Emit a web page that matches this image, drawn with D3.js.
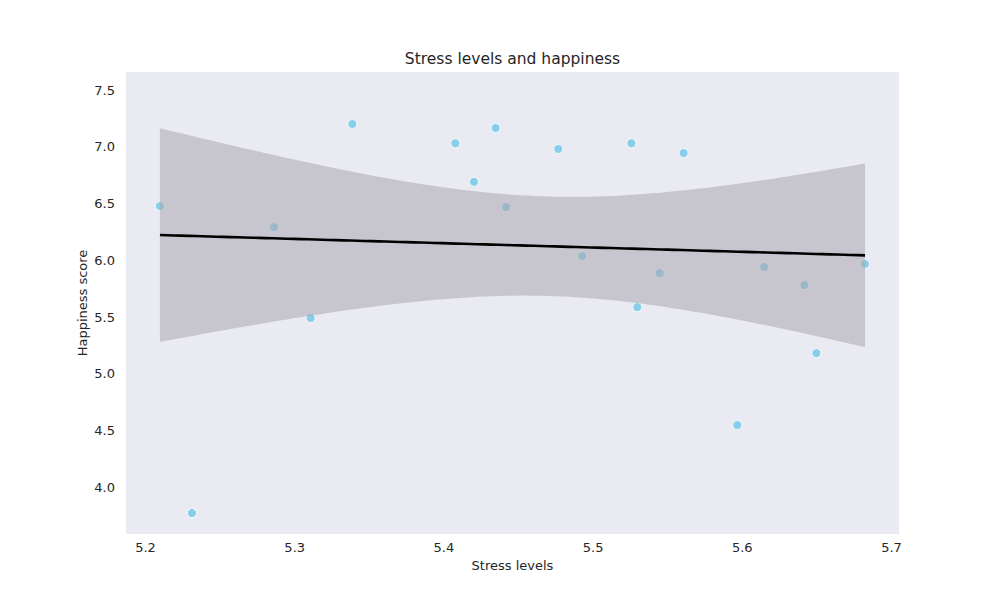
<!DOCTYPE html>
<html lang="en">
<meta charset="utf-8"/>
<head>
<script src="https://d3js.org/d3.v7.min.js"></script>
<style>
  body { margin: 0; background: white; }
  text { font-family: "DejaVu Sans", sans-serif; fill: #262626; }
</style>
</head>
<body>
<svg id="container" width="1000" height="600"></svg>
<script>
// data
let stress =    [5.210, 5.2315, 5.2865, 5.311, 5.339, 5.408, 5.4205, 5.435, 5.442, 5.477, 5.493, 5.526, 5.530, 5.545, 5.561, 5.597, 5.615, 5.642, 5.650, 5.6826]
let happiness = [6.477, 3.77,   6.29,   5.49,  7.20,  7.03,  6.69,   7.165, 6.468, 6.98,  6.036, 7.03,  5.586, 5.886, 6.944, 4.546, 5.94,  5.78,  5.18,  5.966]
let xTicks = [5.2, 5.3, 5.4, 5.5, 5.6, 5.7]
let yTicks = [4.0, 4.5, 5.0, 5.5, 6.0, 6.5, 7.0, 7.5]

let svg = d3.select("svg")
let pLeft = 126, pRight = 899, pTop = 72, pBottom = 534

let x = d3.scaleLinear().domain([5.2, 5.7]).range([145, 891])
let y = d3.scaleLinear().domain([4.0, 7.5]).range([487, 90])

svg.append("rect").attr("x", pLeft).attr("y", pTop)
   .attr("width", pRight-pLeft).attr("height", pBottom-pTop).attr("fill", "#eaeaf2")

// least squares fit + 95% confidence band
let n = stress.length
let mx = d3.mean(stress), my = d3.mean(happiness)
let sxx = d3.sum(stress, v => (v-mx)*(v-mx))
let sxy = d3.sum(stress.map((v,i) => (v-mx)*(happiness[i]-my)))
let b = sxy/sxx, a = my - b*mx
let sse = d3.sum(stress.map((v,i) => Math.pow(happiness[i]-(a+b*v), 2)))
let s = Math.sqrt(sse/(n-2)), t = 2.101
let xmin = d3.min(stress), xmax = d3.max(stress)
let grid = d3.range(0, 101).map(i => xmin + (xmax-xmin)*i/100)
let band = grid.map(g => {
  let f = a + b*g
  let h = t*s*Math.sqrt(1/n + (g-mx)*(g-mx)/sxx)
  return {g: g, f: f, lo: f-h, hi: f+h}
})

svg.append("g").selectAll("circle")
   .data(stress).enter().append("circle")
   .attr("cx", d => x(d)).attr("cy", (d,i) => y(happiness[i]))
   .attr("r", 4.5).attr("fill", "#87ceeb").attr("stroke", "white").attr("stroke-width", 0.8)

svg.append("path").datum(band)
   .attr("d", d3.area().x(d => x(d.g)).y0(d => y(d.lo)).y1(d => y(d.hi)))
   .attr("fill", "#a9a6ae").attr("opacity", 0.55)

svg.append("path").datum(band)
   .attr("d", d3.line().x(d => x(d.g)).y(d => y(d.f)))
   .attr("fill", "none").attr("stroke", "black").attr("stroke-width", 2.6)

svg.append("g").attr("transform", "translate(0," + pBottom + ")")
   .call(d3.axisBottom(x).tickValues(xTicks).tickSize(0).tickPadding(9).tickFormat(d3.format(".1f")))
svg.append("g").attr("transform", "translate(" + pLeft + ",0)")
   .call(d3.axisLeft(y).tickValues(yTicks).tickSize(0).tickPadding(11).tickFormat(d3.format(".1f")))
svg.selectAll(".domain").remove()
svg.selectAll(".tick text").attr("font-size", 13).attr("font-family", "DejaVu Sans, sans-serif").attr("fill", "#262626")

svg.append("text").attr("x", (pLeft+pRight)/2).attr("y", 64).attr("text-anchor", "middle")
   .attr("font-size", 15.5).text("Stress levels and happiness")
svg.append("text").attr("x", (pLeft+pRight)/2).attr("y", 570).attr("text-anchor", "middle")
   .attr("font-size", 13).text("Stress levels")
svg.append("text").attr("transform", "translate(87," + (pTop+pBottom)/2 + ") rotate(-90)")
   .attr("text-anchor", "middle").attr("font-size", 13).text("Happiness score")
</script>
</body>
</html>
